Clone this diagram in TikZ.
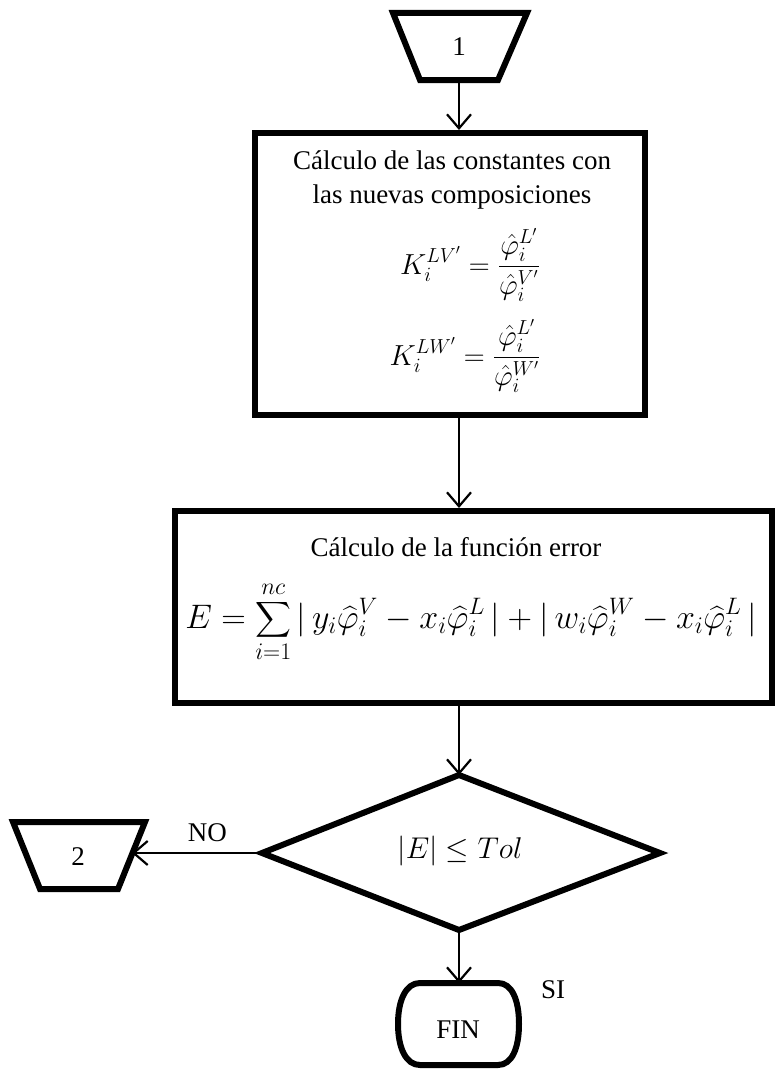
\RequirePackage{fix-cm}
\documentclass[tikz,border=0pt]{standalone}
\usepackage{amsmath}
\usepackage{fontspec}
\setmainfont{Liberation Serif}
\usetikzlibrary{arrows.meta}
\begin{document}
\begin{tikzpicture}[x=1pt,y=-1pt,
  shapeline/.style={line width=6pt, line join=miter},
  conn/.style={line width=2.2pt, -{Straight Barb[length=14pt,width=24pt,line width=2.2pt]}},
  lbl/.style={font=\fontsize{27}{34}\selectfont, inner sep=0pt, align=center},
]
\useasboundingbox (0,0) rectangle (774,1073);

% connector 1
\draw[shapeline] (393,13) -- (527,13) -- (498,80) -- (420,80) -- cycle;
\node[lbl] (c1) at (459,47) {1};
\coordinate (c1b) at (459,80);

% box 1
\node[draw, shapeline, minimum width=390pt, minimum height=282pt, inner sep=0pt] (b1) at (450,274) {};
\node[lbl] (b1t) at (452,180) {Cálculo de las constantes con\\las nuevas composiciones};
\node[lbl, font=\fontsize{29}{34}\selectfont] (e1) at (470,265) {$\displaystyle K_i^{LV'}=\frac{\hat{\varphi}_i^{L'}}{\hat{\varphi}_i^{V'}}$};
\node[lbl, font=\fontsize{29}{34}\selectfont] (e2) at (465,356) {$\displaystyle K_i^{LW'}=\frac{\hat{\varphi}_i^{L'}}{\hat{\varphi}_i^{W'}}$};

% box 2
\node[draw, shapeline, minimum width=597pt, minimum height=192pt, inner sep=0pt] (b2) at (473.5,607) {};
\node[lbl] (b2t) at (456,547) {Cálculo de la función error};
\node[lbl, font=\fontsize{34}{40}\selectfont] (e3) at (471,622) {$\displaystyle E=\sum_{i=1}^{nc}|\,y_i\widehat{\varphi}_i^{V}-x_i\widehat{\varphi}_i^{L}\,|+|\,w_i\widehat{\varphi}_i^{W}-x_i\widehat{\varphi}_i^{L}\,|$};

% decision
\coordinate (dtop) at (459,775);
\coordinate (dright) at (660,853);
\coordinate (dbot) at (459,930);
\coordinate (dleft) at (262,853);
\draw[shapeline] (dtop) -- (dright) -- (dbot) -- (dleft) -- cycle;
\node[lbl, font=\fontsize{30}{34}\selectfont] (d) at (460,851) {$|E|\le Tol$};

% connector 2
\draw[shapeline] (13,822) -- (145,822) -- (118,889) -- (40,889) -- cycle;
\node[lbl] (c2) at (78,857) {2};
\coordinate (c2r) at (132,853);

% terminal
\draw[shapeline] (420,983) -- (498,983) .. controls (512,983) and (519,1000) .. (519,1024)
  .. controls (519,1048) and (512,1065) .. (498,1065) -- (420,1065)
  .. controls (406,1065) and (398,1048) .. (398,1024)
  .. controls (398,1000) and (406,983) .. (420,983) -- cycle;
\node[lbl] (fin) at (458,1030) {FIN};
\coordinate (fintop) at (459,983);
\node[lbl] (si) at (553,990) {SI};

% connectors
\draw[conn] (c1b) -- (c1b |- b1.north);
\draw[conn] (c1b |- b1.south) -- (c1b |- b2.north);
\draw[conn] (c1b |- b2.south) -- (dtop);
\draw[conn] (dleft) -- node[lbl, above=10pt, pos=0.42] (no) {NO} (c2r);
\draw[conn] (dbot) -- (fintop);
\end{tikzpicture}
\end{document}
